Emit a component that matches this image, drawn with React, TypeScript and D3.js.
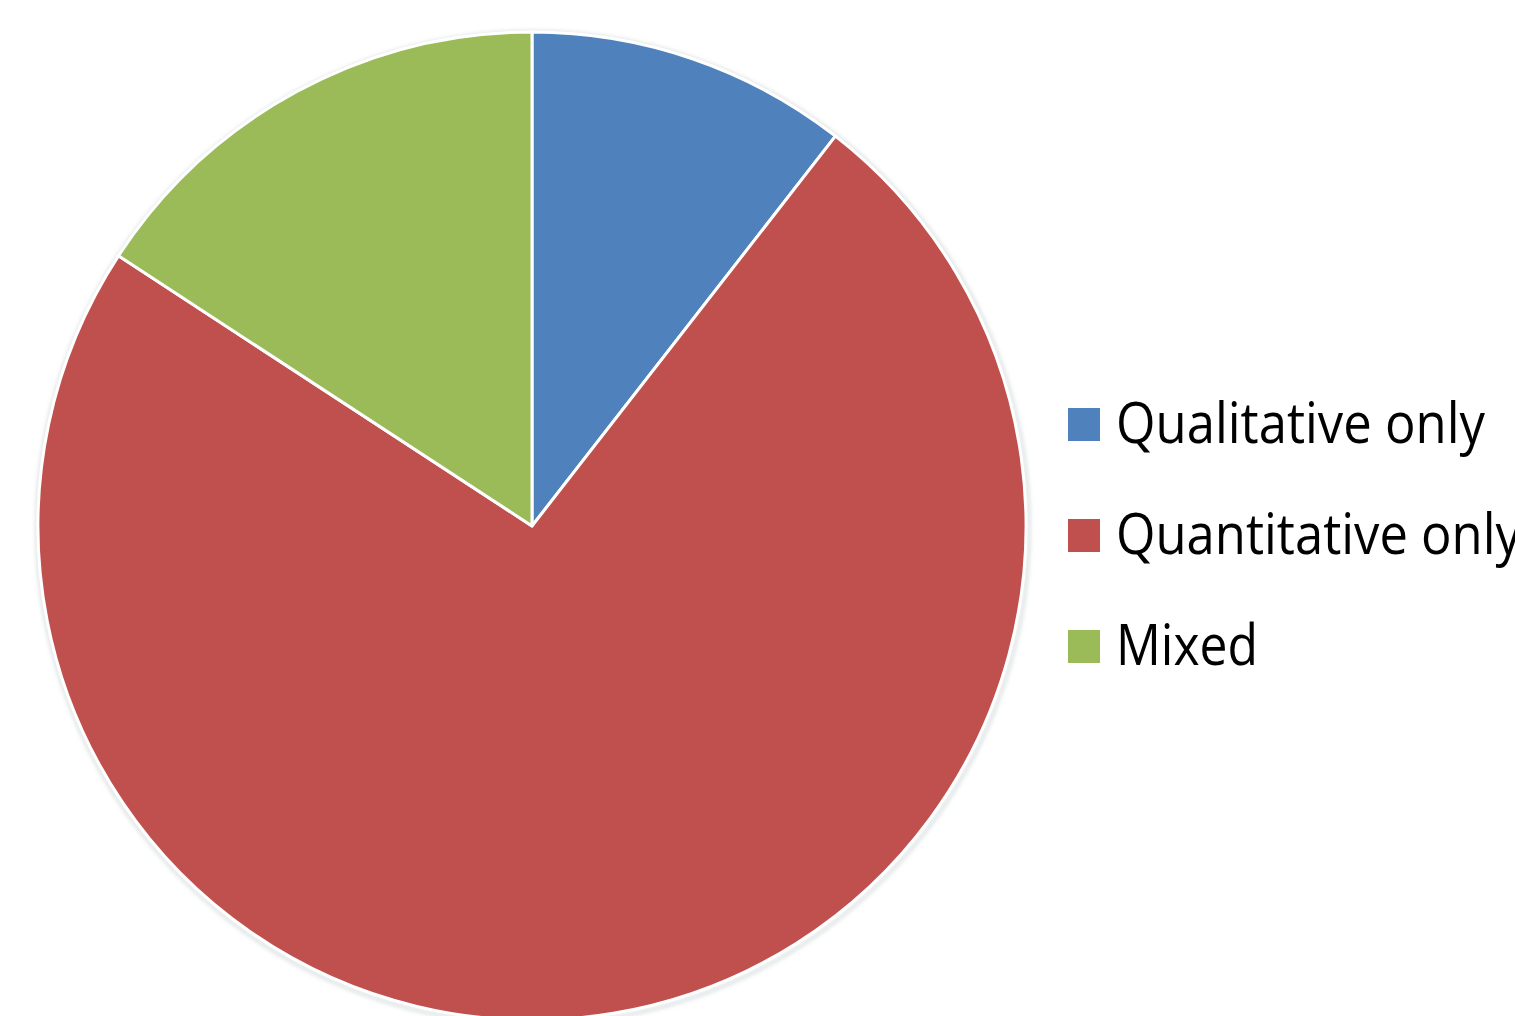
import React from "react";
import * as d3 from "d3";

const categories = ["Qualitative only", "Quantitative only", "Mixed"];
const values = [2, 14, 3];
const colors = ["#4F81BD", "#C0504D", "#9BBB59"];
const legendWidths = [369, 405, 142];

const W = 1515;
const H = 1016;

export default function App() {
  const cx = 532;
  const cy = 526;
  const r = 494;
  const data = categories.map((c, i) => ({ name: c, value: values[i], color: colors[i] }));
  const pie = d3
    .pie<any>()
    .sort(null)
    .value((d: any) => d.value);
  const arcs = pie(data);
  const arc = d3.arc<any>().innerRadius(0).outerRadius(r);

  const legendX = 1068;
  const legendY0 = 408;
  const legendStep = 111;

  return (
    <div style={{ position: "absolute", left: 0, top: 0 }}>
      <svg width={W} height={H} style={{ display: "block", background: "#fff" }}>
        <defs>
          <filter id="blur" x="-10%" y="-10%" width="120%" height="120%">
            <feGaussianBlur stdDeviation="2" />
          </filter>
        </defs>
        <circle
          cx={cx + 1}
          cy={cy + 2}
          r={r + 2}
          fill="none"
          stroke="#b9c4c4"
          strokeWidth={3}
          opacity={0.6}
          filter="url(#blur)"
        />
        <g transform={`translate(${cx},${cy})`}>
          {arcs.map((a, i) => (
            <path
              key={i}
              d={arc(a) as string}
              fill={a.data.color}
              stroke="#ffffff"
              strokeWidth={3}
              strokeLinejoin="round"
            />
          ))}
        </g>
        <g>
          {data.map((d, i) => (
            <g key={d.name} transform={`translate(${legendX},${legendY0 + i * legendStep})`}>
              <rect x={0} y={0} width={32} height={33} fill={d.color} />
              <g transform="translate(48,35) scale(1,1.13)">
                <text
                  x={0}
                  y={0}
                  fontFamily="'Open Sans', 'Noto Sans', sans-serif"
                  fontSize={50.7}
                  fill="#000"
                  textLength={legendWidths[i]}
                  lengthAdjust="spacingAndGlyphs"
                >
                  {d.name}
                </text>
              </g>
            </g>
          ))}
        </g>
      </svg>
    </div>
  );
}
